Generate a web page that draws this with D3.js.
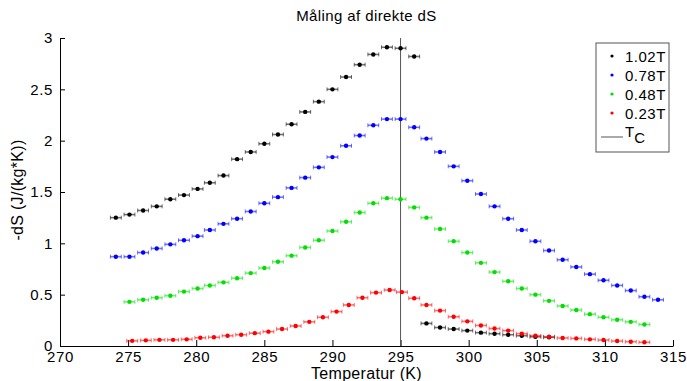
<!DOCTYPE html>
<html>
<head>
<meta charset="utf-8">
<script src="https://cdn.jsdelivr.net/npm/d3@7"></script>
<style>
  html, body { margin: 0; padding: 0; background: #fff; }
  svg { display: block; font-family: "Liberation Sans", Arial, sans-serif; }
  .axis path, .axis line { stroke: #000; }
  .axis text { font-size: 15px; fill: #000; letter-spacing: 0.6px; }
</style>
</head>
<body>
<div id="chart"></div>
<script>
// temperatures (K)
const tempsA = [274.1, 275.1, 276.1, 277.1, 278.1, 279.1, 280.1, 281.0, 282.0, 283.0,
  284.0, 285.0, 286.0, 287.0, 288.0, 289.0, 290.0, 291.0, 292.0, 293.0,
  294.0, 295.0, 296.0, 296.9, 297.9, 298.9, 299.9, 300.9, 301.9, 302.9,
  303.9, 304.9, 305.9, 306.9, 307.9, 308.9, 309.9, 310.9, 311.9, 312.9, 313.9]
const tempsRed = [275.3, 276.3, 277.3, 278.3, 279.3, 280.3, 281.3, 282.3, 283.3, 284.3,
  285.3, 286.3, 287.3, 288.3, 289.3, 290.3, 291.2, 292.2, 293.2, 294.2,
  295.1, 296.0, 296.9, 297.9, 298.9, 299.9, 300.9, 301.9, 302.9, 303.9,
  304.9, 305.9, 306.9, 307.9, 308.9, 309.9, 310.9, 311.9, 312.9]

// -dS values (J/(kg*K))
const ds102hi = [1.25, 1.28, 1.32, 1.36, 1.43, 1.47, 1.53, 1.59, 1.66, 1.82,
  1.89, 1.97, 2.06, 2.16, 2.28, 2.38, 2.50, 2.62, 2.74, 2.84, 2.91, 2.90, 2.82]
const ds102lo = [0.22, 0.18, 0.165, 0.15, 0.13, 0.12, 0.11, 0.10, 0.09, 0.085]
const ds078 = [0.87, 0.87, 0.91, 0.95, 0.99, 1.03, 1.07, 1.13, 1.19, 1.24,
  1.31, 1.39, 1.45, 1.54, 1.64, 1.74, 1.84, 1.95, 2.05, 2.15,
  2.21, 2.21, 2.13, 2.02, 1.89, 1.75, 1.61, 1.48, 1.36, 1.24,
  1.13, 1.02, 0.93, 0.84, 0.77, 0.70, 0.64, 0.59, 0.54, 0.48, 0.45]
const ds048 = [0.43, 0.45, 0.47, 0.49, 0.53, 0.56, 0.59, 0.62, 0.66, 0.71,
  0.76, 0.82, 0.88, 0.96, 1.03, 1.12, 1.21, 1.30, 1.39, 1.44,
  1.43, 1.35, 1.25, 1.14, 1.02, 0.91, 0.81, 0.72, 0.63, 0.56,
  0.50, 0.44, 0.39, 0.35, 0.31, 0.28, 0.255, 0.235, 0.21]
const ds023 = [0.05, 0.055, 0.06, 0.06, 0.065, 0.08, 0.085, 0.10, 0.11, 0.125,
  0.14, 0.165, 0.195, 0.235, 0.28, 0.335, 0.40, 0.47, 0.52, 0.545,
  0.525, 0.465, 0.40, 0.345, 0.285, 0.24, 0.20, 0.17, 0.15, 0.12,
  0.10, 0.09, 0.078, 0.074, 0.065, 0.058, 0.048, 0.042, 0.036]

const xErr = 0.4 // horizontal error bar half width (K)
const Tc = 295

const seriesLabels = ["1.02T", "0.78T", "0.48T", "0.23T"]
const seriesColors = ["#000000", "#0000ff", "#00e000", "#ff0000"]

const xTicks = [270, 275, 280, 285, 290, 295, 300, 305, 310, 315]
const yTicks = [0, 0.5, 1, 1.5, 2, 2.5, 3]

const series = [
  { color: seriesColors[0], data: tempsA.slice(0, 23).map((t, i) => ({ t, y: ds102hi[i] }))
      .concat(tempsA.slice(23, 33).map((t, i) => ({ t, y: ds102lo[i] }))) },
  { color: seriesColors[1], data: tempsA.map((t, i) => ({ t, y: ds078[i] })) },
  { color: seriesColors[2], data: tempsA.slice(1, 40).map((t, i) => ({ t, y: ds048[i] })) },
  { color: seriesColors[3], data: tempsRed.map((t, i) => ({ t, y: ds023[i] })) },
]

const width = 687, height = 381
const margin = { left: 60, top: 38, right: 14, bottom: 35 }
const innerW = width - margin.left - margin.right
const innerH = height - margin.top - margin.bottom

const svg = d3.select("#chart").append("svg")
  .attr("width", width).attr("height", height)
svg.append("rect").attr("width", width).attr("height", height).attr("fill", "#fff")

const g = svg.append("g").attr("transform", `translate(${margin.left},${margin.top})`)

const x = d3.scaleLinear().domain([270, 315]).range([0, innerW])
const y = d3.scaleLinear().domain([0, 3]).range([innerH, 0])

// axes (ticks pointing inward)
g.append("g").attr("class", "axis")
  .attr("transform", `translate(0,${innerH})`)
  .call(d3.axisBottom(x).tickValues(xTicks).tickFormat(d3.format("d"))
    .tickSizeInner(-6).tickSizeOuter(0).tickPadding(5))
g.append("g").attr("class", "axis")
  .call(d3.axisLeft(y).tickValues(yTicks).tickFormat(d => String(d))
    .tickSizeInner(-5).tickSizeOuter(0).tickPadding(7))

// Tc line
g.append("line")
  .attr("x1", x(Tc)).attr("x2", x(Tc))
  .attr("y1", 0).attr("y2", innerH)
  .attr("stroke", "#555").attr("stroke-width", 1)

// data with horizontal error bars
for (const s of series) {
  const grp = g.append("g")
  const eb = grp.selectAll("g.eb").data(s.data).enter().append("g")
    .attr("stroke", s.color).attr("stroke-opacity", 0.55)
  eb.append("line")
    .attr("x1", d => x(d.t - xErr)).attr("x2", d => x(d.t + xErr))
    .attr("y1", d => y(d.y)).attr("y2", d => y(d.y))
    .attr("stroke-width", 1.6)
  eb.append("line")
    .attr("x1", d => x(d.t - xErr)).attr("x2", d => x(d.t - xErr))
    .attr("y1", d => y(d.y) - 2).attr("y2", d => y(d.y) + 2)
  eb.append("line")
    .attr("x1", d => x(d.t + xErr)).attr("x2", d => x(d.t + xErr))
    .attr("y1", d => y(d.y) - 2).attr("y2", d => y(d.y) + 2)
  grp.selectAll("circle").data(s.data).enter().append("circle")
    .attr("cx", d => x(d.t)).attr("cy", d => y(d.y))
    .attr("r", 2.2).attr("fill", s.color)
}

// title and axis labels
svg.append("text")
  .attr("x", margin.left + innerW / 2).attr("y", 21)
  .attr("text-anchor", "middle").attr("font-size", 15)
  .attr("letter-spacing", 0.4)
  .text("Måling af direkte dS")
svg.append("text")
  .attr("x", margin.left + innerW / 2).attr("y", 379)
  .attr("text-anchor", "middle").attr("font-size", 16)
  .attr("letter-spacing", 0.3)
  .text("Temperatur (K)")
svg.append("text")
  .attr("transform", `translate(23,${margin.top + innerH / 2 - 2}) rotate(-90)`)
  .attr("text-anchor", "middle").attr("font-size", 16)
  .attr("letter-spacing", 0.3)
  .text("-dS (J/(kg*K))")

// legend
const leg = svg.append("g").attr("transform", "translate(596,43)")
leg.append("rect").attr("width", 73).attr("height", 109)
  .attr("fill", "#fff").attr("stroke", "#555").attr("stroke-width", 1)
seriesLabels.forEach((lab, i) => {
  const yy = 13 + i * 19
  leg.append("circle").attr("cx", 16).attr("cy", yy).attr("r", 1.6)
    .attr("fill", seriesColors[i])
  leg.append("text").attr("x", 29).attr("y", yy + 5.5)
    .attr("font-size", 15).attr("letter-spacing", 0.5).text(lab)
})
leg.append("line").attr("x1", 5).attr("x2", 27).attr("y1", 94).attr("y2", 94)
  .attr("stroke", "#555")
const tc = leg.append("text").attr("x", 29).attr("y", 94).attr("font-size", 15)
tc.append("tspan").text("T")
tc.append("tspan").attr("dy", 6).text("C")
</script>
</body>
</html>
